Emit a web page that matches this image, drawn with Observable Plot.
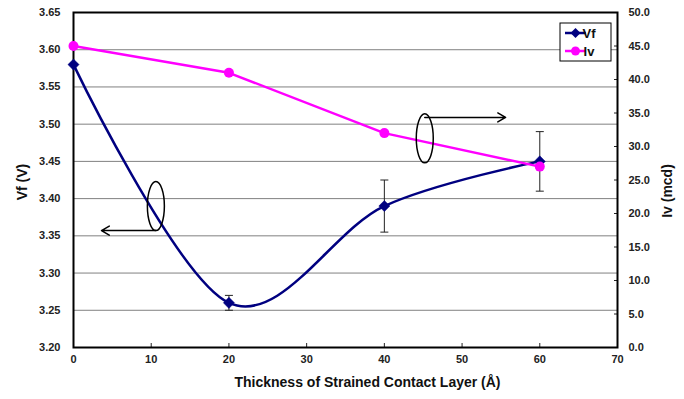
<!DOCTYPE html>
<html><head><meta charset="utf-8">
<script src="https://cdn.jsdelivr.net/npm/d3@7"></script>
<script src="https://cdn.jsdelivr.net/npm/@observablehq/plot@0.6"></script>
<style>body{margin:0;background:#fff;} svg{display:block;}</style>
</head><body><div id="chart"></div>
<script>
const thickness = [0, 20, 40, 60];
const vf = [3.58, 3.26, 3.39, 3.45];
const vfErr = [0, 0.01, 0.035, 0.04];
const iv = [45, 41, 32, 27];
const xTicks = [0, 10, 20, 30, 40, 50, 60, 70];
const vfTicks = [3.20, 3.25, 3.30, 3.35, 3.40, 3.45, 3.50, 3.55, 3.60, 3.65];
const ivTicks = [0, 5, 10, 15, 20, 25, 30, 35, 40, 45, 50];
const seriesNames = ["Vf", "Iv"];
const seriesColors = ["#000080", "#ff00ff"];
// annotation anchors (data coordinates)
const ellipseX = [10.6, 45.2];
const ellipseY = [3.390, 3.481];
const arrowX1 = [10.6, 45.2];
const arrowX2 = [3.6, 55.6];
const arrowY = [3.357, 3.509];

const VF_MIN = 3.2, VF_MAX = 3.65, IV_MAX = 50;
const ivToVf = v => VF_MIN + v * (VF_MAX - VF_MIN) / IV_MAX;

const vfData = thickness.map((t, i) => ({t, v: vf[i], lo: vf[i] - vfErr[i], hi: vf[i] + vfErr[i], err: vfErr[i]}));
const ivData = thickness.map((t, i) => ({t, v: ivToVf(iv[i])}));
const ellipses = ellipseX.map((x, i) => ({x, y: ellipseY[i]}));
const arrows = arrowX1.map((x1, i) => ({x1, x2: arrowX2[i], y: arrowY[i]}));

const ellipseSymbol = {draw(ctx) {
  const rx = 8.5, ry = 24.5, k = 0.5523;
  ctx.moveTo(rx, 0);
  ctx.bezierCurveTo(rx, ry * k, rx * k, ry, 0, ry);
  ctx.bezierCurveTo(-rx * k, ry, -rx, ry * k, -rx, 0);
  ctx.bezierCurveTo(-rx, -ry * k, -rx * k, -ry, 0, -ry);
  ctx.bezierCurveTo(rx * k, -ry, rx, -ry * k, rx, 0);
  ctx.closePath();
}};
const capSymbol = {draw(ctx) { ctx.moveTo(-4, 0); ctx.lineTo(4, 0); }};

const chart = Plot.plot({
  width: 684, height: 399,
  marginLeft: 73, marginRight: 67, marginTop: 12, marginBottom: 52,
  x: {domain: [0, 70]},
  y: {domain: [VF_MIN, VF_MAX]},
  style: {fontFamily: "'Liberation Sans', Arial, sans-serif", fontWeight: "bold", fontSize: "11px", color: "#222", background: "#fff"},
  marks: [
    Plot.gridY(vfTicks, {stroke: "#808080", strokeOpacity: 1, strokeWidth: 1}),
    Plot.axisX(xTicks, {tickSize: -4, tickPadding: 12, label: null, tickFormat: d => String(d)}),
    Plot.axisY(vfTicks, {tickSize: 0, tickPadding: 13, label: null, tickFormat: d => d.toFixed(2)}),
    Plot.axisY(ivTicks.map(ivToVf), {anchor: "right", tickSize: -4, tickPadding: 15, label: null,
      tickFormat: d => ((d - VF_MIN) * IV_MAX / (VF_MAX - VF_MIN)).toFixed(1)}),
    Plot.frame({stroke: "#000", strokeWidth: 2}),
    Plot.link(vfData.filter(d => d.err > 0), {x1: "t", x2: "t", y1: "lo", y2: "hi", stroke: "#222", strokeWidth: 1}),
    Plot.dot(vfData.filter(d => d.err > 0), {x: "t", y: "lo", symbol: capSymbol, stroke: "#222", strokeWidth: 1}),
    Plot.dot(vfData.filter(d => d.err > 0), {x: "t", y: "hi", symbol: capSymbol, stroke: "#222", strokeWidth: 1}),
    Plot.line(vfData, {x: "t", y: "v", curve: "cardinal", stroke: seriesColors[0], strokeWidth: 2.5}),
    Plot.dot(vfData, {x: "t", y: "v", symbol: "diamond2", r: 5, fill: seriesColors[0], stroke: seriesColors[0], strokeWidth: 0.5}),
    Plot.line(ivData, {x: "t", y: "v", stroke: seriesColors[1], strokeWidth: 2.5}),
    Plot.dot(ivData, {x: "t", y: "v", r: 5, fill: seriesColors[1]}),
    Plot.dot(ellipses, {x: "x", y: "y", symbol: ellipseSymbol, stroke: "#000", fill: "none", strokeWidth: 1.5}),
    Plot.arrow(arrows, {x1: "x1", x2: "x2", y1: "y", y2: "y", stroke: "#000", strokeWidth: 1.5, headLength: 9, bend: 0}),
    Plot.text(["Vf (V)"], {frameAnchor: "left", textAnchor: "middle", dx: -51, dy: 2, rotate: -90, fontSize: 14, fontWeight: "bold", fill: "#111"}),
    Plot.text(["Iv (mcd)"], {frameAnchor: "right", textAnchor: "middle", dx: 50, dy: 11, rotate: -90, fontSize: 14, fontWeight: "bold", fill: "#111"}),
    Plot.text(["Thickness of Strained Contact Layer (Å)"], {frameAnchor: "bottom", dx: 22, dy: 39, fontSize: 14, fontWeight: "bold", fill: "#111"})
  ]
});
document.getElementById("chart").appendChild(chart);

// legend
const svg = d3.select(chart);
const lg = svg.append("g").attr("font-family", "'Liberation Sans', Arial, sans-serif").attr("font-weight", "bold").attr("font-size", 13);
lg.append("rect").attr("x", 560).attr("y", 23).attr("width", 51).attr("height", 38).attr("fill", "#fff").attr("stroke", "#000").attr("stroke-width", 1);
seriesNames.forEach((name, i) => {
  const y = 33 + i * 18;
  lg.append("line").attr("x1", 565).attr("x2", 586).attr("y1", y).attr("y2", y).attr("stroke", seriesColors[i]).attr("stroke-width", 2.5);
  if (i === 0) lg.append("path").attr("d", `M575.5,${y-5}L580.5,${y}L575.5,${y+5}L570.5,${y}Z`).attr("fill", seriesColors[i]);
  else lg.append("circle").attr("cx", 575.5).attr("cy", y).attr("r", 4.5).attr("fill", seriesColors[i]);
  lg.append("text").attr("x", 589).attr("y", y).attr("dy", "0.36em").attr("fill", "#111").text(name);
});
</script></body></html>
